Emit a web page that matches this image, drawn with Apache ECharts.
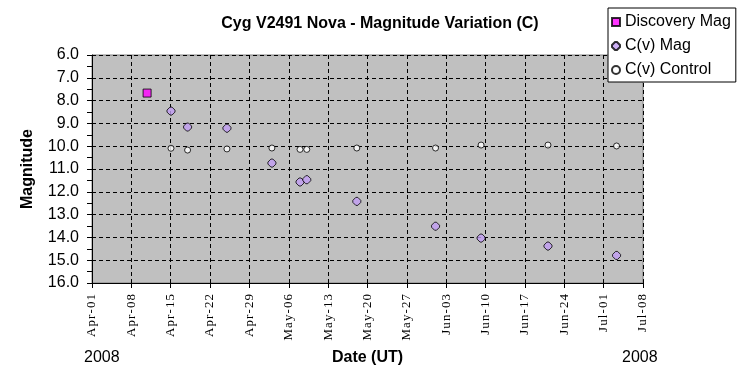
<!DOCTYPE html>
<html><head><meta charset="utf-8">
<script src="https://cdn.jsdelivr.net/npm/echarts@6/dist/echarts.min.js"></script>
<style>html,body{margin:0;padding:0;background:#fff}#c{width:751px;height:385px}</style>
</head><body><div id="c"></div>
<script>
// x values: days since 2008 Apr 01 (UT)
const discoveryDays = [9.8];
const discoveryMag = [7.67];
const cvMagDays = [14.05, 17.0, 24.0, 32.0, 37.0, 38.2, 47.1, 61.1, 69.2, 81.1, 93.3];
const cvMagValues = [8.46, 9.16, 9.21, 10.74, 11.57, 11.47, 12.42, 13.51, 14.03, 14.38, 14.79];
const controlDays = [14.05, 17.0, 24.0, 32.0, 37.0, 38.2, 47.1, 61.1, 69.2, 81.1, 93.3];
const controlValues = [10.09, 10.17, 10.12, 10.08, 10.14, 10.14, 10.08, 10.08, 9.95, 9.95, 9.99];
const monthNames = ['Jan','Feb','Mar','Apr','May','Jun','Jul','Aug','Sep','Oct','Nov','Dec'];

const zip = (a, b) => a.map((v, i) => [v, b[i]]);
function fmtDay(v) {
  const d = new Date(Date.UTC(2008, 3, 1) + Math.round(v) * 86400000);
  const dd = String(d.getUTCDate()).padStart(2, '0');
  const s = monthNames[d.getUTCMonth()] + '-' + dd;
  return s.split('').join('\u200A');
}
const octo = 'path://M3,0 L5,0 L8,3 L8,5 L5,8 L3,8 L0,5 L0,3 Z';
const chart = echarts.init(document.getElementById('c'));
chart.setOption({
  animation: false,
  backgroundColor: '#ffffff',
  title: {
    text: 'Cyg V2491 Nova - Magnitude Variation (C)',
    left: 380, top: 16, textAlign: 'center', padding: 0,
    textStyle: { fontFamily: 'Arial, Liberation Sans', fontSize: 16, fontWeight: 'bold', color: '#000' }
  },
  legend: {
    orient: 'vertical', left: 608, top: 8,
    backgroundColor: '#ffffff', borderColor: '#000', borderWidth: 1,
    padding: [6, 5, 4, 3], itemGap: 8, itemWidth: 8, itemHeight: 8,
    textStyle: { fontFamily: 'Arial, Liberation Sans', fontSize: 16, lineHeight: 16, color: '#000' },
    data: [
      { name: 'Discovery Mag', icon: 'rect' },
      { name: 'C(v) Mag', icon: octo },
      { name: 'C(v) Control', icon: 'circle' }
    ]
  },
  grid: { left: 92, right: 108, top: 55, bottom: 102, show: true, backgroundColor: '#C0C0C0', borderColor: '#808080', borderWidth: 1 },
  xAxis: {
    type: 'value', min: 0, max: 98, interval: 7,
    name: 'Date (UT)', nameLocation: 'middle', nameGap: 67,
    nameTextStyle: { fontFamily: 'Arial, Liberation Sans', fontSize: 16, fontWeight: 'bold', color: '#000' },
    axisLine: { show: true, onZero: false, lineStyle: { color: '#000', width: 1 } },
    axisTick: { show: true, inside: false, length: 5, lineStyle: { color: '#000' } },
    axisLabel: { rotate: 90, margin: 11, formatter: fmtDay, fontFamily: 'Liberation Serif, Times New Roman', fontSize: 13, color: '#000', showMinLabel: true, showMaxLabel: true },
    splitLine: { show: true, lineStyle: { color: '#000', type: [4, 3], width: 1 } }
  },
  yAxis: {
    type: 'value', min: 6, max: 16, interval: 1, inverse: true,
    name: 'Magnitude', nameLocation: 'middle', nameGap: 56,
    nameTextStyle: { fontFamily: 'Arial, Liberation Sans', fontSize: 16, fontWeight: 'bold', color: '#000' },
    axisLine: { show: true, lineStyle: { color: '#000', width: 1 } },
    axisTick: { show: true, inside: false, length: 5, lineStyle: { color: '#000' } },
    minorTick: { show: true, splitNumber: 2, length: 5, lineStyle: { color: '#000' } },
    axisLabel: { formatter: v => v.toFixed(1), margin: 13, fontFamily: 'Arial, Liberation Sans', fontSize: 16, color: '#000' },
    splitLine: { show: true, lineStyle: { color: '#000', type: [4, 3], width: 1 } }
  },
  graphic: [
    { type: 'text', left: 84, top: 350, style: { text: '2008', font: '16px Arial, Liberation Sans', fill: '#000' } },
    { type: 'text', left: 622, top: 350, style: { text: '2008', font: '16px Arial, Liberation Sans', fill: '#000' } }
  ],
  series: [
    { name: 'Discovery Mag', type: 'scatter', symbol: 'rect', symbolSize: 8, z: 5,
      itemStyle: { color: '#FF00FF', borderColor: '#000', borderWidth: 1 }, data: zip(discoveryDays, discoveryMag) },
    { name: 'C(v) Mag', type: 'scatter', symbol: octo, symbolSize: 8, z: 4,
      itemStyle: { color: '#C09CF2', borderColor: '#000', borderWidth: 1 }, data: zip(cvMagDays, cvMagValues) },
    { name: 'C(v) Control', type: 'scatter', symbol: 'circle', symbolSize: 6, z: 3,
      itemStyle: { color: '#FFFFFF', borderColor: '#000', borderWidth: 1 }, data: zip(controlDays, controlValues) }
  ]
});
</script></body></html>
